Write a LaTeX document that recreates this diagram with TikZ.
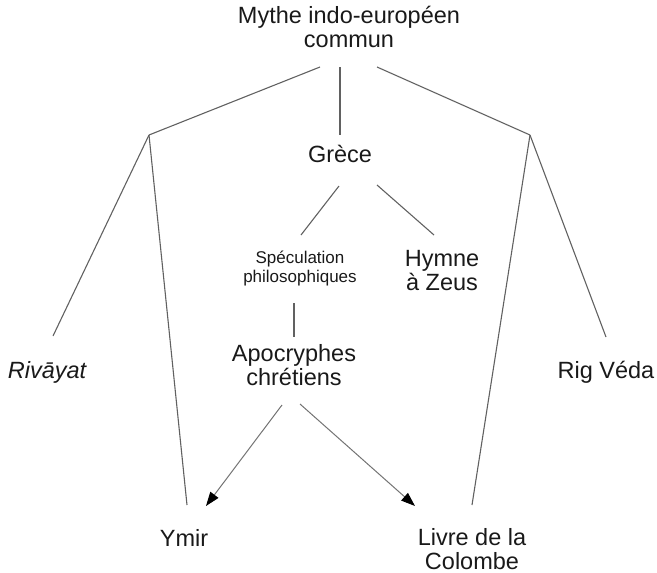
\documentclass[tikz,border=0pt]{standalone}
\usepackage{fontspec}
\setmainfont{Liberation Sans}
\usetikzlibrary{arrows.meta}
\begin{document}
\begin{tikzpicture}[x=1pt,y=-1pt,
  lbl/.style={anchor=base, inner sep=0pt, align=center, text=black!90,
    font=\fontsize{23.5}{23.5}\selectfont},
  small/.style={lbl, font=\fontsize{17}{18.5}\selectfont},
  link/.style={draw=black!62, line width=1.1pt},
  arr/.style={draw=black!55, line width=1pt, -{Triangle[length=14pt,width=10pt,black]}}]
\useasboundingbox (0,0) rectangle (657,573);

% nodes (base anchor = baseline of the last line)
\node[lbl] (title) at (349,47) {Mythe indo-européen\\commun};
\node[lbl] (grece) at (340,162) {Grèce};
\node[small] (spec) at (300,282) {Spéculation\\philosophiques};
\node[lbl] (hymne) at (442,290) {Hymne\\à Zeus};
\node[lbl] (apoc) at (294,385) {Apocryphes\\chrétiens};
\node[lbl] (riv) at (47,378) {\itshape Rivāyat};
\node[lbl] (rig) at (606,378) {Rig Véda};
\node[lbl] (ymir) at (184,546) {Ymir};
\node[lbl] (livre) at (472,569) {Livre de la\\Colombe};

% connector end points
\coordinate (t1) at (320,67);
\coordinate (t2) at (340,67);
\coordinate (t3) at (377,67);
\coordinate (bL) at (149,135);
\coordinate (bR) at (530,135);
\coordinate (g0) at (340,135);
\coordinate (rivE) at (53,336);
\coordinate (ymirE) at (187,505);
\coordinate (rigE) at (606,337);
\coordinate (livE) at (472,505);
\coordinate (g1) at (339,186);
\coordinate (g2) at (377,185);
\coordinate (specE) at (301,235);
\coordinate (hymE) at (434,235);
\coordinate (s0) at (294,303);
\coordinate (a0) at (294,337);
\coordinate (a1) at (282,405);
\coordinate (a2) at (300,404);
\coordinate (ymA) at (206,506);
\coordinate (livA) at (415,506);

% connectors
\draw[link] (t1) -- (bL);
\draw[link] (t2) -- (g0);
\draw[link] (t3) -- (bR);
\draw[link] (bL) -- (rivE);
\draw[link] (bL) -- (ymirE);
\draw[link] (bR) -- (rigE);
\draw[link] (bR) -- (livE);
\draw[link] (g1) -- (specE);
\draw[link] (g2) -- (hymE);
\draw[link] (s0) -- (a0);
\draw[arr] (a1) -- (ymA);
\draw[arr] (a2) -- (livA);
\end{tikzpicture}
\end{document}
